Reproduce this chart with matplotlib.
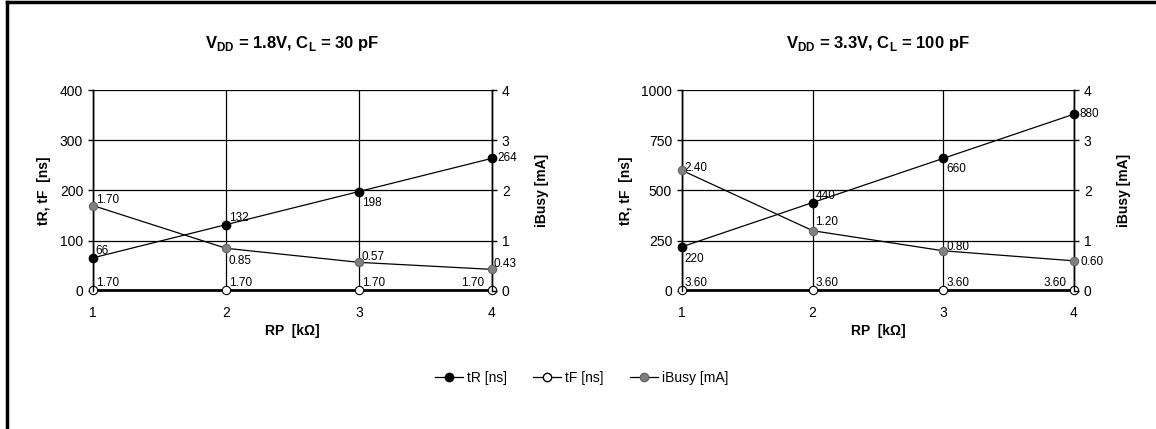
import matplotlib.pyplot as plt
from matplotlib.lines import Line2D

plt.rcParams["font.family"] = ["Liberation Sans", "DejaVu Sans"]
plt.rcParams["mathtext.fontset"] = "custom"
plt.rcParams["mathtext.rm"] = "Liberation Sans:bold"
plt.rcParams["mathtext.bf"] = "Liberation Sans:bold"

rp = [1, 2, 3, 4]

# VDD = 1.8V, CL = 30 pF
tr_18 = [66, 132, 198, 264]
tf_18 = [1.70, 1.70, 1.70, 1.70]
ib_18 = [1.70, 0.85, 0.57, 0.43]

# VDD = 3.3V, CL = 100 pF
tr_33 = [220, 440, 660, 880]
tf_33 = [3.60, 3.60, 3.60, 3.60]
ib_33 = [2.40, 1.20, 0.80, 0.60]

titles = [r"V$_{\mathrm{DD}}$ = 1.8V, C$_{\mathrm{L}}$ = 30 pF",
          r"V$_{\mathrm{DD}}$ = 3.3V, C$_{\mathrm{L}}$ = 100 pF"]
left_ticks = [[0, 100, 200, 300, 400], [0, 250, 500, 750, 1000]]
right_ticks = [0, 1, 2, 3, 4]

# label offsets (points) per series, per point
off_tr = [[(2, 5), (2, 5), (2, -8), (4, 0)],
          [(2, -9), (2, 5), (2, -8), (4, 0)]]
off_ib = [[(2, 4), (2, -9), (2, 4), (1, 4)],
          [(2, 2), (2, 6), (2, 3), (5, -1)]]
off_tf = [[(2, 5), (2, 5), (2, 5), (-22, 5)],
          [(2, 5), (2, 5), (2, 5), (-22, 5)]]

fig = plt.figure(figsize=(11.56, 4.29), dpi=100)
fig.patch.set_facecolor("white")

positions = [[93 / 1156, 0.3217, 399 / 1156, 0.4685],
             [682 / 1156, 0.3217, 392 / 1156, 0.4685]]
data = [(tr_18, tf_18, ib_18), (tr_33, tf_33, ib_33)]

for i, (tr, tf, ib) in enumerate(data):
    ax = fig.add_axes(positions[i])
    ax2 = ax.twinx()
    ax.set_xlim(1, 4)
    ax.set_ylim(0, left_ticks[i][-1])
    ax2.set_ylim(0, 4)
    for s in ["top", "bottom"]:
        ax.spines[s].set_visible(False)
        ax2.spines[s].set_visible(False)
    for a in (ax, ax2):
        for s in ["left", "right"]:
            a.spines[s].set_linewidth(1.0)
    ax.set_xticks(rp)
    ax.set_yticks(left_ticks[i])
    ax2.set_yticks(right_ticks)
    ax.grid(True, color="black", linewidth=0.9)
    ax.tick_params(axis="x", length=0, pad=11, labelsize=10)
    ax.tick_params(axis="y", length=3.6, width=1, pad=3.5, labelsize=10)
    ax2.tick_params(axis="y", length=3.6, width=1, pad=3.5, labelsize=10)

    ax.plot(rp, tr, color="black", lw=0.9, marker="o", ms=6,
            mfc="black", mec="black", clip_on=False, zorder=3)
    ax.plot(rp, tf, color="black", lw=2.0, marker="o", ms=6,
            mfc="white", mec="black", mew=0.8, clip_on=False, zorder=3)
    ax2.plot(rp, ib, color="black", lw=0.9, marker="o", ms=6,
             mfc="#808080", mec="#666666", mew=0.8, clip_on=False, zorder=3)

    for j in range(4):
        ax.annotate(f"{tr[j]}", (rp[j], tr[j]), xytext=off_tr[i][j],
                    textcoords="offset points", fontsize=8.5, ha="left",
                    va="center", annotation_clip=False)
        ax.annotate(f"{tf[j]:.2f}", (rp[j], tf[j]), xytext=off_tf[i][j],
                    textcoords="offset points", fontsize=8.5, ha="left",
                    va="center", annotation_clip=False)
        ax2.annotate(f"{ib[j]:.2f}", (rp[j], ib[j]), xytext=off_ib[i][j],
                     textcoords="offset points", fontsize=8.5, ha="left",
                     va="center", annotation_clip=False)

    ax.set_xlabel("RP  [k\u03a9]", fontsize=10, fontweight="bold", labelpad=3)
    ax.set_ylabel("tR, tF  [ns]", fontsize=10, fontweight="bold", labelpad=6)
    ax2.set_ylabel("iBusy [mA]", fontsize=10, fontweight="bold", labelpad=18)
    ax.set_title(titles[i], fontsize=12, fontweight="bold", pad=30)

handles = [
    Line2D([], [], color="black", lw=0.9, marker="o", ms=6, mfc="black", mec="black"),
    Line2D([], [], color="black", lw=0.9, marker="o", ms=6, mfc="white", mec="black"),
    Line2D([], [], color="black", lw=0.9, marker="o", ms=6, mfc="#808080", mec="#666666"),
]
fig.legend(handles, ["tR [ns]", "tF [ns]", "iBusy [mA]"], loc="center",
           bbox_to_anchor=(0.503, 0.119), ncol=3, frameon=False, fontsize=10,
           handlelength=2.0, columnspacing=1.9, handletextpad=0.3)

# outer frame (top and left edges)
fig.add_artist(Line2D([7 / 1156, 1], [1 - 2 / 429, 1 - 2 / 429], color="black",
                      lw=2.5, transform=fig.transFigure))
fig.add_artist(Line2D([7 / 1156, 7 / 1156], [0, 1 - 2 / 429], color="black",
                      lw=2.5, transform=fig.transFigure))

fig.savefig("out.png", dpi=100)
